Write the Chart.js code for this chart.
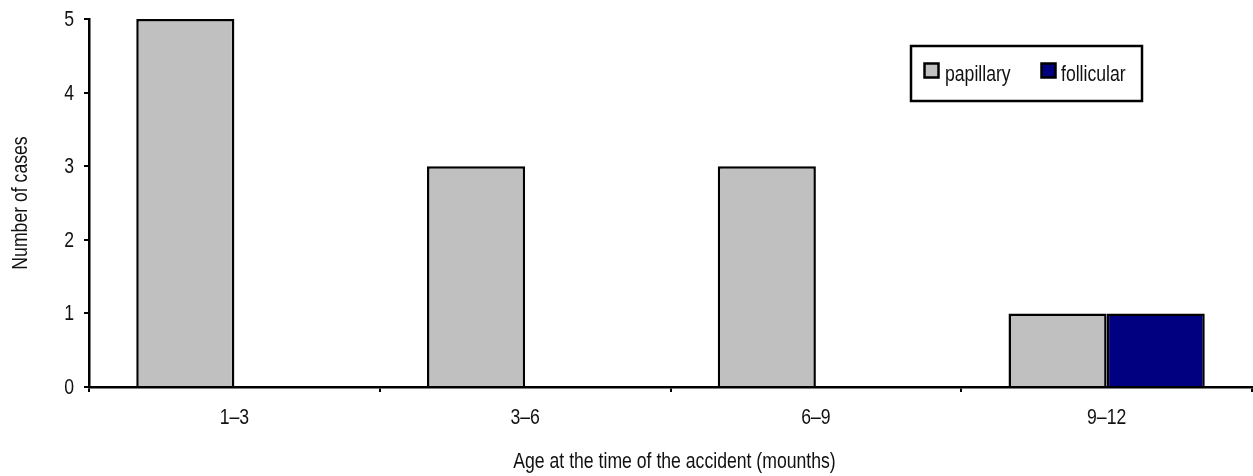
<!DOCTYPE html>
<html><head><meta charset="utf-8">
<script src="https://cdn.jsdelivr.net/npm/chart.js@4"></script>
<style>html,body{margin:0;padding:0;background:#fff}#w{width:1253px;height:476px}</style>
</head><body><div id="w"><canvas id="c"></canvas></div>
<script>
const categories = ['1–3', '3–6', '6–9', '9–12'];
const papillary = [5, 3, 3, 1];
const follicular = [0, 0, 0, 1];
const yTicks = [0, 1, 2, 3, 4, 5];
const seriesNames = ['papillary', 'follicular'];
const xTitle = 'Age at the time of the accident (mounths)';
const yTitle = 'Number of cases';

const FONT = "21.5px 'Liberation Sans', Arial, sans-serif";
const NARROW = 0.82;

function narrowText(ctx, text, x, y, align, baseline, rot) {
  ctx.save();
  ctx.translate(x, y);
  if (rot) ctx.rotate(rot);
  ctx.scale(NARROW, 1);
  ctx.font = FONT;
  ctx.fillStyle = '#111';
  ctx.textAlign = align;
  ctx.textBaseline = baseline;
  ctx.fillText(text, 0, 0);
  ctx.restore();
}

const textPlugin = {
  id: 'textPlugin',
  afterDraw(chart) {
    const ctx = chart.ctx;
    const xs = chart.scales.x, ys = chart.scales.y;
    yTicks.forEach(v => narrowText(ctx, String(v), 74, ys.getPixelForValue(v) + 1, 'right', 'middle'));
    chart.data.labels.forEach((l, i) => narrowText(ctx, l, xs.getPixelForValue(i), 424, 'center', 'alphabetic'));
    narrowText(ctx, xTitle, (chart.chartArea.left + chart.chartArea.right) / 2 + 4, 468, 'center', 'alphabetic');
    narrowText(ctx, yTitle, 27, (chart.chartArea.top + chart.chartArea.bottom) / 2, 'center', 'alphabetic', -Math.PI / 2);
    const bx = 911, by = 46, bw = 231, bh = 55;
    ctx.save();
    ctx.fillStyle = '#fff';
    ctx.fillRect(bx, by, bw, bh);
    ctx.lineWidth = 2.5;
    ctx.strokeStyle = '#000';
    ctx.strokeRect(bx, by, bw, bh);
    const pos = [{sq: 924.5, tx: 945}, {sq: 1041.5, tx: 1061}];
    chart.data.datasets.forEach((ds, i) => {
      ctx.fillStyle = ds.backgroundColor;
      ctx.fillRect(pos[i].sq, 63.5, 14, 14);
      ctx.lineWidth = 2.5;
      ctx.strokeStyle = '#000';
      ctx.strokeRect(pos[i].sq, 63.5, 14, 14);
    });
    ctx.restore();
    chart.data.datasets.forEach((ds, i) => narrowText(ctx, ds.label, pos[i].tx, 81, 'left', 'alphabetic'));
  }
};

new Chart(document.getElementById('c'), {
  type: 'bar',
  data: {
    labels: categories,
    datasets: [
      {label: seriesNames[0], data: papillary, backgroundColor: '#C0C0C0', borderColor: '#000', borderWidth: 2.5, barPercentage: 1, categoryPercentage: 0.675},
      {label: seriesNames[1], data: follicular, backgroundColor: '#000080', borderColor: '#000', borderWidth: 2.5, barPercentage: 1, categoryPercentage: 0.675}
    ]
  },
  options: {
    responsive: true,
    maintainAspectRatio: false,
    animation: false,
    layout: {padding: {top: 19, right: 1, left: 0, bottom: 0}},
    plugins: {legend: {display: false}, tooltip: {enabled: false}},
    scales: {
      x: {
        grid: {drawOnChartArea: false, color: '#000', lineWidth: 2, tickLength: 5, offset: true},
        border: {color: '#000', width: 2.5},
        ticks: {display: false},
        afterFit(s) { s.height = 89; }
      },
      y: {
        min: 0, max: 5,
        afterBuildTicks(s) { s.ticks = yTicks.map(v => ({value: v})); },
        grid: {drawOnChartArea: false, color: '#000', lineWidth: 2, tickLength: 5},
        border: {color: '#000', width: 2.5},
        ticks: {display: false},
        afterFit(s) { s.width = 89; }
      }
    }
  },
  plugins: [textPlugin]
});
</script></body></html>
